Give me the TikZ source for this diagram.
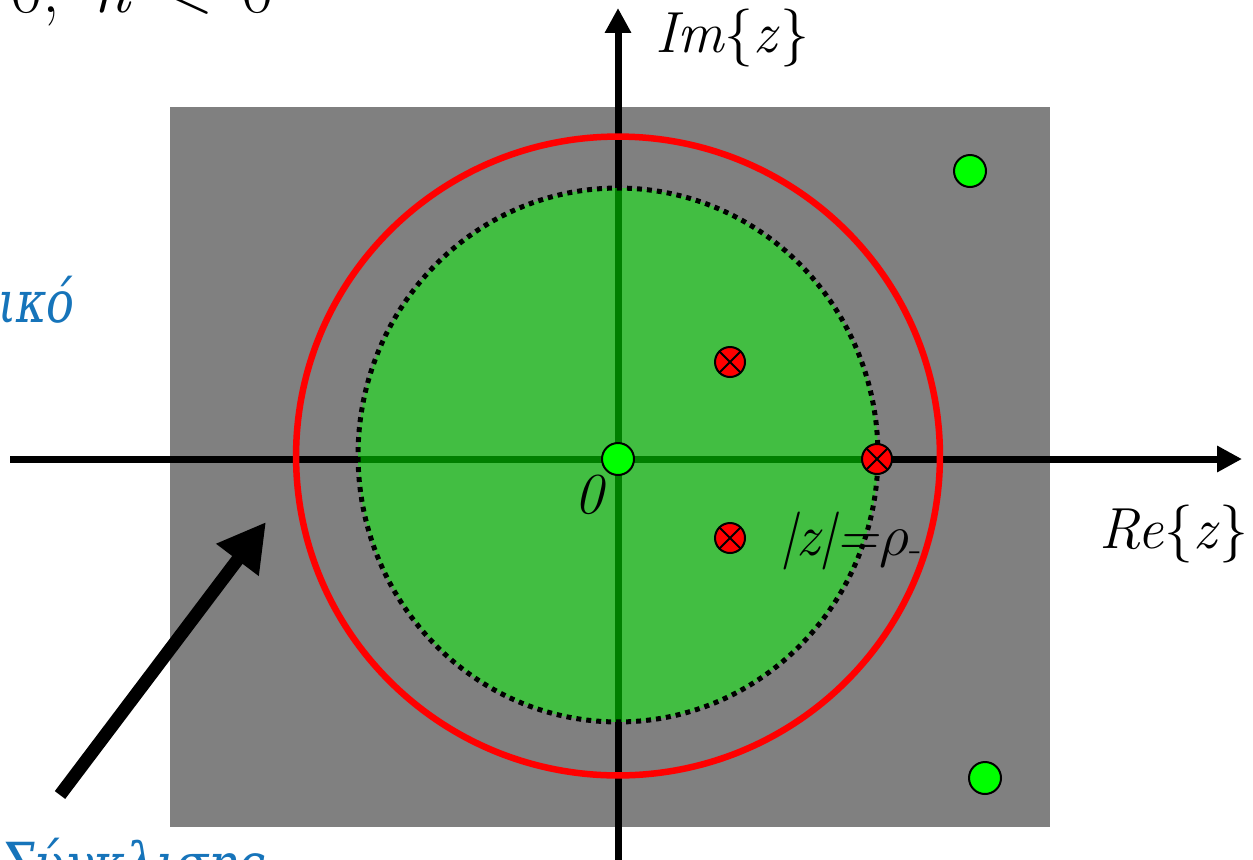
\documentclass[tikz,border=0pt]{standalone}
\usepackage{fontspec}
\usepackage{graphicx}
\newfontfamily\grk{DejaVu Serif}
\usetikzlibrary{arrows.meta}
\definecolor{bggrey}{HTML}{808080}
\definecolor{roc}{HTML}{42BE42}
\definecolor{darkax}{HTML}{007F00}
\definecolor{zerogreen}{HTML}{00FF00}
\definecolor{txtblue}{HTML}{1674BA}
\tikzset{
  axis/.style={line width=0.14cm, -{Triangle[length=0.5cm,width=0.5cm]}},
  pole/.style={circle, draw=black, fill=red, line width=0.04cm, minimum size=0.6cm, inner sep=0pt,
    path picture={\draw[line width=0.04cm] (path picture bounding box.center) +(45:0.3cm) -- +(225:0.3cm)
      (path picture bounding box.center) +(135:0.3cm) -- +(315:0.3cm);}},
  zero/.style={circle, draw=black, fill=zerogreen, line width=0.04cm, minimum size=0.64cm, inner sep=0pt},
  lbl/.style={inner sep=0pt, font=\fontsize{33}{40}\selectfont},
  bluetxt/.style={inner sep=0pt, text=txtblue, font=\grk\fontsize{33}{40}\selectfont\itshape},
}
\begin{document}
\begin{tikzpicture}[x=0.02cm,y=-0.02cm]
\useasboundingbox (0,0) rectangle (1253,859);
\clip (0,0) rectangle (1253,859);
% background region
\fill[bggrey] (170,107) rectangle (1050,827);
% axes
\coordinate (O) at (618,459);
\coordinate (xl) at (10,459);
\coordinate (xr) at (1242,459);
\coordinate (yb) at (618,870);
\coordinate (yt) at (618,8);
\draw[axis] (xl) -- (xr);
\draw[axis] (yb) -- (yt);
% ROC disk
\fill[roc] (618,455) ellipse [x radius=5.2cm, y radius=5.34cm];
\begin{scope}
  \clip (618,455) ellipse [x radius=5.2cm, y radius=5.34cm];
  \draw[darkax, line width=0.14cm] (xl) -- (xr);
  \draw[darkax, line width=0.14cm] (yb) -- (yt);
\end{scope}
\draw[black, line width=0.1cm, dash pattern=on 0.1cm off 0.1cm] (618,455) ellipse [x radius=5.2cm, y radius=5.34cm];
% red circle
\draw[red, line width=0.13cm] (618,456) ellipse [x radius=6.44cm, y radius=6.39cm];
% poles and zeros
\node[pole] (p1) at (730,362) {};
\node[pole] (p2) at (730,538) {};
\node[pole] (p3) at (877,459) {};
\node[zero] (z0) at (O) {};
\node[zero] (z1) at (970,171) {};
\node[zero] (z2) at (985,778) {};
% labels
\node[lbl, anchor=base west] (im) at (655,52) {\textit{Im}\{\textit{z}\}};
\node[lbl, anchor=base east] (re) at (1249,548) {\textit{Re}\{\textit{z}\}};
\node[lbl, anchor=base] (zero0) at (590,513) {\textit{0}};
\node[lbl, anchor=base west] (rho) at (780,555) {\textit{|z|=}\scalebox{1.35}{$\rho$}\textsubscript{-}};
% big arrow
\coordinate (as) at (60,795);
\coordinate (at) at (266,522);
\draw[line width=0.26cm, -{Triangle[length=0.95cm,width=1.0cm]}] (as) -- (at);
% cut texts
\node[inner sep=0pt, anchor=base west, font=\fontsize{40}{44}\selectfont] (cond) at (10,12) {0,\hspace{0.45em}\textit{n}\hspace{0.4em}<\hspace{0.4em}0};
\node[bluetxt, anchor=base west] (t1) at (-2,322) {\scalebox{0.8}[1]{ικό}};
\node[bluetxt, anchor=base west] (t2) at (0,884) {\scalebox{0.84}[1]{Σύγκλισης}};
\end{tikzpicture}
\end{document}
